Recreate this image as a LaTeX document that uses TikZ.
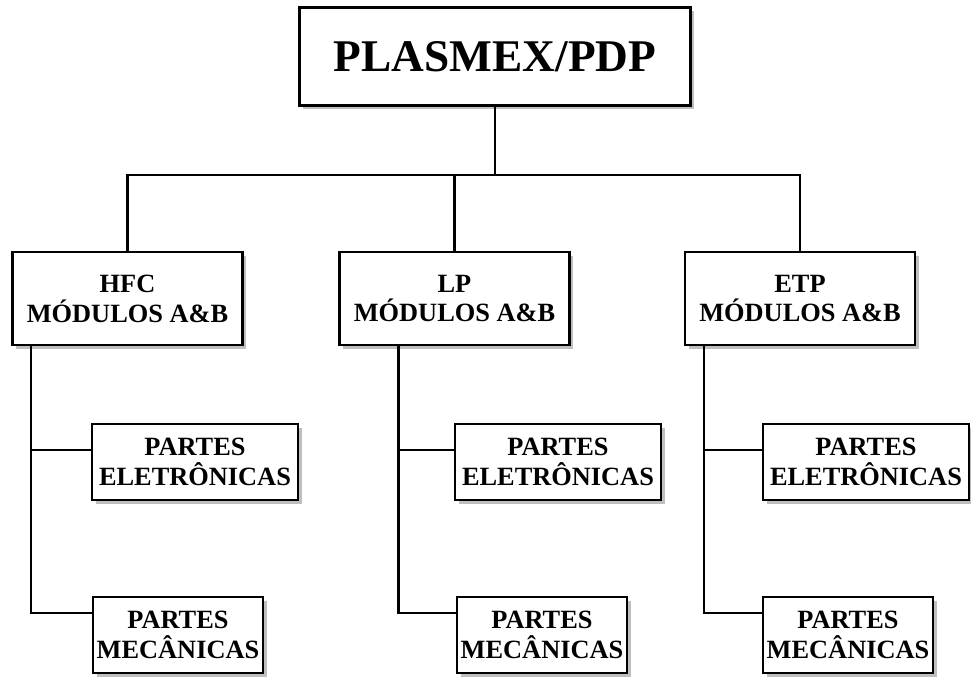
\documentclass[tikz,border=0pt]{standalone}
\usepackage{fontspec}
\setmainfont{Liberation Serif}
\usetikzlibrary{positioning, calc, shadows}

\begin{document}
\begin{tikzpicture}[
    orgbox/.style={draw, line width=1.4pt, fill=white, inner sep=0pt,
                   align=center, font=\fontsize{15}{17}\selectfont\bfseries,
                   drop shadow={shadow xshift=2pt, shadow yshift=-2pt,
                                fill=gray!50, opacity=1}},
    wire/.style={line width=1.4pt}
  ]
  \useasboundingbox (0,0) rectangle (19.42,-13.62);

  % Top: project
  \node[orgbox, minimum width=7.82cm, minimum height=1.96cm,
        font=\fontsize{25.8}{30}\selectfont\bfseries] (top) at (9.9, -1.13) {PLASMEX/PDP};

  % Second level: modules
  \node[orgbox, minimum width=4.6cm, minimum height=1.86cm] (hfc) at (2.55, -5.97) {HFC\\MÓDULOS A\&B};
  \node[orgbox, minimum width=4.6cm, minimum height=1.86cm] (lp) at (9.09, -5.97) {LP\\MÓDULOS A\&B};
  \node[orgbox, minimum width=4.6cm, minimum height=1.86cm] (etp) at (16.0, -5.97) {ETP\\MÓDULOS A\&B};

  % Third level: parts
  \node[orgbox, minimum width=4.12cm, minimum height=1.52cm] (e1) at (3.9, -9.24) {PARTES\\ELETRÔNICAS};
  \node[orgbox, minimum width=4.12cm, minimum height=1.52cm] (e2) at (11.16, -9.24) {PARTES\\ELETRÔNICAS};
  \node[orgbox, minimum width=4.12cm, minimum height=1.52cm] (e3) at (17.32, -9.24) {PARTES\\ELETRÔNICAS};
  \node[orgbox, minimum width=3.4cm, minimum height=1.52cm] (m1) at (3.56, -12.7) {PARTES\\MECÂNICAS};
  \node[orgbox, minimum width=3.4cm, minimum height=1.52cm] (m2) at (10.84, -12.7) {PARTES\\MECÂNICAS};
  \node[orgbox, minimum width=3.4cm, minimum height=1.52cm] (m3) at (16.96, -12.7) {PARTES\\MECÂNICAS};

  % Bus from top to modules
  \coordinate (bus) at (9.9, -3.5);
  \draw[wire] (top.south) -- (bus);
  \draw[wire] (hfc.north) -- (hfc.north |- bus) -- (etp.north |- bus) -- (etp.north);
  \draw[wire] (lp.north) -- (lp.north |- bus);

  % Trunks from modules to parts
  \coordinate (t1) at ($(hfc.south west)+(0.4,0)$);
  \coordinate (t2) at ($(lp.south west)+(1.2,0)$);
  \coordinate (t3) at ($(etp.south west)+(0.4,0)$);
  \foreach \t/\e/\m in {t1/e1/m1, t2/e2/m2, t3/e3/m3} {
    \draw[wire] (\t) |- ([yshift=0.24cm]\e.west);
    \draw[wire] (\t) |- ([yshift=0.44cm]\m.west);
  }
\end{tikzpicture}
\end{document}
